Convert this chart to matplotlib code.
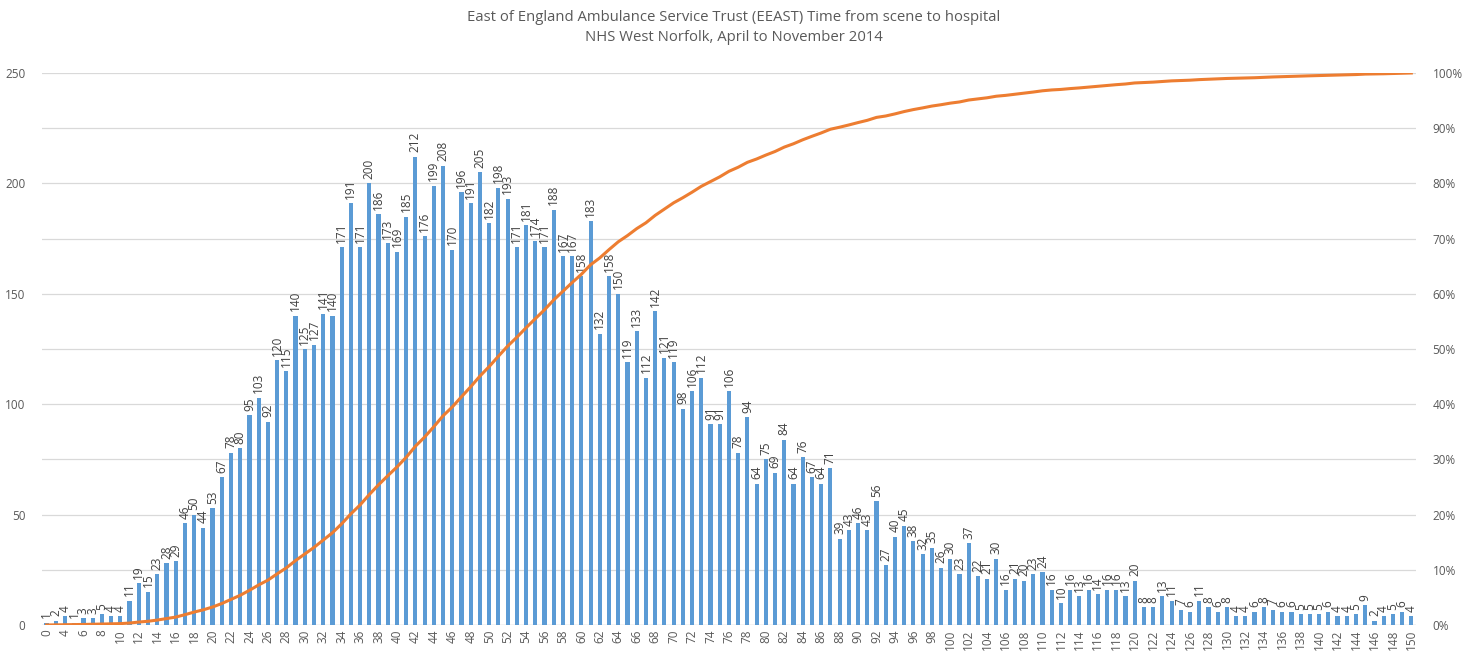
import matplotlib
matplotlib.use("Agg")
import matplotlib.pyplot as plt
import numpy as np

title = "East of England Ambulance Service Trust (EEAST) Time from scene to hospital\nNHS West Norfolk, April to November 2014"

# minutes from scene to hospital (categories; 1 and 3 have no entries)
minutes = [0, 2] + list(range(4, 151))

counts = [
    1, 2, 4, 1, 3, 3, 5, 4, 4, 11, 19, 15,          # 0,2,4..13
    23, 28, 29, 46, 50, 44, 53, 67,                 # 14..21
    78, 80, 95, 103, 92, 120, 115, 140,             # 22..29
    125, 127, 141, 140, 171, 191, 171, 200,         # 30..37
    186, 173, 169, 185, 212, 176, 199, 208,         # 38..45
    170, 196, 191, 205, 182, 198, 193, 171,         # 46..53
    181, 174, 171, 188, 167, 167, 158, 183,         # 54..61
    132, 158, 150, 119, 133, 112, 142, 121,         # 62..69
    119, 98, 106, 112, 91, 91, 106, 78,             # 70..77
    94, 64, 75, 69, 84, 64, 76, 67,                 # 78..85
    64, 71, 39, 43, 46, 43, 56, 27,                 # 86..93
    40, 45, 38, 32, 35, 26, 30, 23,                 # 94..101
    37, 22, 21, 30, 16, 21, 20, 23,                 # 102..109
    24, 16, 10, 16, 13, 16, 14, 16,                 # 110..117
    16, 13, 20, 8, 8, 13, 11, 7,                    # 118..125
    6, 11, 8, 6, 8, 4, 4, 6,                        # 126..133
    8, 7, 6, 6, 5, 5, 5, 6,                         # 134..141
    4, 4, 5, 9, 2, 4, 5, 6, 4,                      # 142..150
]

left_ticks = [0, 50, 100, 150, 200, 250]
right_ticks = [0, 10, 20, 30, 40, 50, 60, 70, 80, 90, 100]

BAR = "#5B9BD5"
LINE = "#ED7D31"
TXT = "#595959"
GRID = "#D9D9D9"

plt.rcParams['font.family'] = ['Open Sans', 'DejaVu Sans']

fig = plt.figure(figsize=(14.67, 6.54), dpi=100)
ax = fig.add_axes([0.0286, 0.0443, 0.9366, 0.8441])
ax2 = ax.twinx()

idx = np.arange(len(counts))
cum = np.cumsum(counts) / np.sum(counts) * 100.0

for y in np.arange(0, 251, 25):
    ax.axhline(y, color=GRID, lw=0.9, zorder=0)

ax.bar(idx, counts, width=0.45, color=BAR, zorder=2)
for i, v in zip(idx, counts):
    ax.text(i, v + 2, str(v), rotation=90, ha="center", va="bottom",
            fontsize=8.5, color="#404040", zorder=3)

ax2.plot(idx, cum, color=LINE, lw=2.2, zorder=4)

ax.set_xlim(-0.5, len(counts) - 0.5)
ax.set_ylim(0, 250)
ax2.set_ylim(0, 100)

ax.set_yticks(left_ticks)
ax.set_yticklabels([str(t) for t in left_ticks])
ax2.set_yticks(right_ticks)
ax2.set_yticklabels([f"{t}%" for t in right_ticks])

ax.set_xticks(idx[::2])
ax.set_xticklabels([str(m) for m in minutes[::2]], rotation=90)

for a in (ax, ax2):
    for s in a.spines.values():
        s.set_visible(False)
    a.tick_params(axis="both", length=0, colors=TXT, labelsize=8.5)
ax.tick_params(axis="x", pad=3)
ax.tick_params(axis="y", pad=12)
ax2.tick_params(axis="y", pad=12)
ax.axhline(0, color=GRID, lw=1.0, zorder=1)

fig.text(0.5, 0.985, title, ha="center", va="top", fontsize=10.7,
         color=TXT, linespacing=1.5)

fig.savefig("out.png", dpi=100, facecolor="white")
